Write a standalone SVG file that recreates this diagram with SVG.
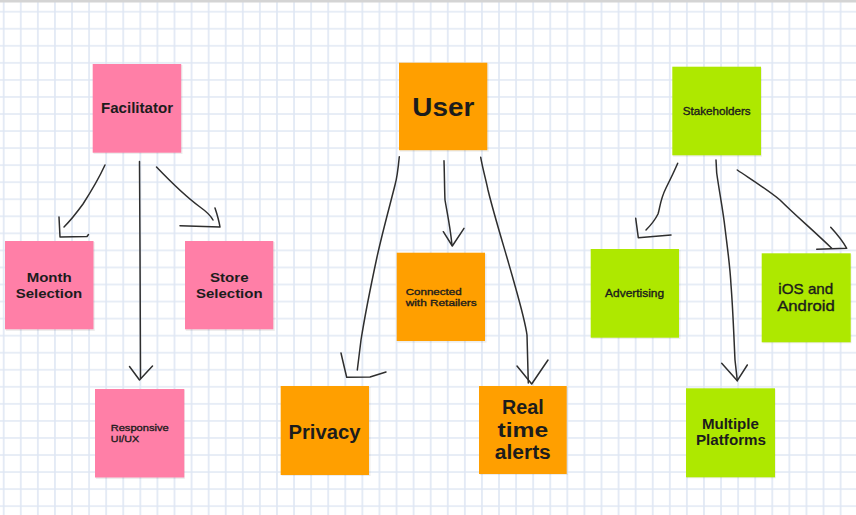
<svg xmlns="http://www.w3.org/2000/svg" width="856" height="515" viewBox="0 0 856 515">
<defs>
<pattern id="grid" patternUnits="userSpaceOnUse" x="-4.84" y="3.18" width="17.08" height="17.05">
<path d="M8.54 0V17.05M0 8.52H17.08" stroke="#dfe7f4" stroke-width="1.6" fill="none"/>
</pattern>
<style>
.pink{fill:#ff7fa7}
.orange{fill:#ff9f00}
.green{fill:#aee800}
.shadow{fill:#000;opacity:0.07}
.t{font-family:"Liberation Sans",Arial,sans-serif;fill:#1c1c1c;font-weight:700;text-anchor:middle}
.s{font-family:"Liberation Sans",Arial,sans-serif;fill:#1c1c1c;font-weight:400;stroke:#1c1c1c;stroke-width:0.35}
.c{stroke:#2e2e2e;stroke-width:1.5;fill:none;stroke-linecap:round;stroke-linejoin:round}
</style>
</defs>
<rect width="856" height="515" fill="#ffffff"/>
<rect width="856" height="515" fill="url(#grid)"/>
<rect x="0" y="0" width="856" height="2.5" fill="#d4d4d4"/>

<g id="connectors">
<path class="c" d="M105,165 C99,178 92,190 83,204 C75,215 70,221 64,227"/>
<path class="c" d="M59,217 L60,237 L87,236.5 L88.5,234.5"/>
<path class="c" d="M139.5,161.5 L140,250 L140.5,378"/>
<path class="c" d="M129.5,366.5 L139.5,380 L152.5,366"/>
<path class="c" d="M156.5,167 C168,179 185,196 200,207 C207,212 211,216 213,220"/>
<path class="c" d="M215,208 C217,214 219,221 220,227 L180,225.7"/>

<path class="c" d="M399.3,156.7 C398,170 397,178 395,185 C390,205 383,230 377,257 C371,285 365,315 361,340 L357.3,370"/>
<path class="c" d="M341,353 C343,362 345,370 346.7,377.3 L370,377 L386,372"/>
<path class="c" d="M444,160.7 C444.5,175 444.5,190 445,200 C447,212 450,225 452,245"/>
<path class="c" d="M443.3,231.7 L452.3,246 L464,228.3"/>
<path class="c" d="M480.7,157.3 C483,170 486,180 488,190 C494,215 505,250 512,275 C519,300 525,320 527,335 L528.3,383"/>
<path class="c" d="M517,366 L531.7,384 L548,360"/>

<path class="c" d="M677.7,163.3 C674,172 670,180 666,188 C660,200 660,208 658,214 C654,222 650,226 646,230"/>
<path class="c" d="M635.7,218.3 L638.3,237.7 L671,235"/>
<path class="c" d="M716,160 L716.7,173 C719,190 723,210 725,228 C727,245 730,265 731,285 C733,310 734,340 735,360 L737.3,380.7"/>
<path class="c" d="M721.7,363.3 L737.3,380.7 L747.3,365"/>
<path class="c" d="M737.3,170 C752,180 768,190 780,200 C795,215 815,232 831.7,248.3"/>
<path class="c" d="M830.7,227.3 C836,233 842,240 846.7,248.3 L816.7,249.3"/>
</g>

<g id="facilitator">
<rect class="shadow" x="93.5" y="65" width="89" height="89"/>
<rect class="pink" x="92.7" y="64" width="88.5" height="88.7"/>
<text class="t" x="137" y="112.5" font-size="14" textLength="72" lengthAdjust="spacingAndGlyphs">Facilitator</text>
</g>
<g id="month">
<rect class="shadow" x="5.8" y="242" width="89" height="89"/>
<rect class="pink" x="5" y="241" width="88.5" height="88.3"/>
<text class="t" x="49.2" y="282" font-size="13.3" textLength="45" lengthAdjust="spacingAndGlyphs">Month</text>
<text class="t" x="49" y="298" font-size="13.3" textLength="66.5" lengthAdjust="spacingAndGlyphs">Selection</text>
</g>
<g id="store">
<rect class="shadow" x="185.8" y="242" width="89" height="89"/>
<rect class="pink" x="185" y="241" width="88.3" height="88.3"/>
<text class="t" x="229.3" y="282" font-size="13.3" textLength="38.5" lengthAdjust="spacingAndGlyphs">Store</text>
<text class="t" x="229.3" y="298" font-size="13.3" textLength="66.5" lengthAdjust="spacingAndGlyphs">Selection</text>
</g>
<g id="responsive">
<rect class="shadow" x="95.8" y="390" width="89" height="89"/>
<rect class="pink" x="95" y="389" width="89.3" height="88.5"/>
<text class="s" x="110.7" y="430.5" font-size="9.8" textLength="58" lengthAdjust="spacingAndGlyphs">Responsive</text>
<text class="s" x="110.7" y="441.6" font-size="9.8" textLength="28.5" lengthAdjust="spacingAndGlyphs">UI/UX</text>
</g>

<g id="user">
<rect class="shadow" x="399.8" y="63.7" width="89" height="88"/>
<rect class="orange" x="399" y="62.7" width="88.3" height="87.5"/>
<text class="t" x="443.3" y="116" font-size="26.5" textLength="62" lengthAdjust="spacingAndGlyphs">User</text>
</g>
<g id="connected">
<rect class="shadow" x="397.5" y="253.7" width="89" height="89"/>
<rect class="orange" x="396.7" y="252.7" width="88.3" height="88.3"/>
<text class="s" x="405.7" y="295" font-size="9.6" textLength="56" lengthAdjust="spacingAndGlyphs">Connected</text>
<text class="s" x="405.7" y="305.9" font-size="9.6" textLength="71" lengthAdjust="spacingAndGlyphs">with Retailers</text>
</g>
<g id="privacy">
<rect class="shadow" x="281.5" y="387" width="89" height="89"/>
<rect class="orange" x="280.7" y="386" width="88.3" height="89"/>
<text class="t" x="324.5" y="438.5" font-size="20.5" textLength="72" lengthAdjust="spacingAndGlyphs">Privacy</text>
</g>
<g id="realtime">
<rect class="shadow" x="479.8" y="387" width="88" height="88"/>
<rect class="orange" x="479" y="386" width="87.7" height="88"/>
<text class="t" x="522.8" y="414" font-size="20" textLength="41.7" lengthAdjust="spacingAndGlyphs">Real</text>
<text class="t" x="522.8" y="436.7" font-size="20" textLength="50.7" lengthAdjust="spacingAndGlyphs">time</text>
<text class="t" x="522.8" y="459.3" font-size="20" textLength="56" lengthAdjust="spacingAndGlyphs">alerts</text>
</g>

<g id="stakeholders">
<rect class="shadow" x="673" y="67.7" width="89" height="89"/>
<rect class="green" x="672.3" y="66.7" width="88.7" height="88.6"/>
<text class="s" x="716.7" y="115" font-size="11" text-anchor="middle" textLength="68" lengthAdjust="spacingAndGlyphs">Stakeholders</text>
</g>
<g id="advertising">
<rect class="shadow" x="591.5" y="250" width="89" height="89"/>
<rect class="green" x="590.7" y="249" width="88.3" height="88.7"/>
<text class="s" x="634.6" y="296.7" font-size="10.8" text-anchor="middle" textLength="59" lengthAdjust="spacingAndGlyphs">Advertising</text>
</g>
<g id="ios">
<rect class="shadow" x="762.5" y="254.3" width="89" height="89"/>
<rect class="green" x="761.7" y="253.3" width="89" height="89"/>
<text class="s" x="805.8" y="294" font-size="14.6" text-anchor="middle" textLength="55" lengthAdjust="spacingAndGlyphs">iOS and</text>
<text class="s" x="806" y="310.5" font-size="14.6" text-anchor="middle" textLength="57.7" lengthAdjust="spacingAndGlyphs">Android</text>
</g>
<g id="multiple">
<rect class="shadow" x="686.8" y="389.3" width="89" height="89"/>
<rect class="green" x="686" y="388.3" width="89" height="89"/>
<text class="t" x="730.4" y="428.5" font-size="14" textLength="57" lengthAdjust="spacingAndGlyphs">Multiple</text>
<text class="t" x="731" y="445" font-size="14" textLength="70" lengthAdjust="spacingAndGlyphs">Platforms</text>
</g>
</svg>
